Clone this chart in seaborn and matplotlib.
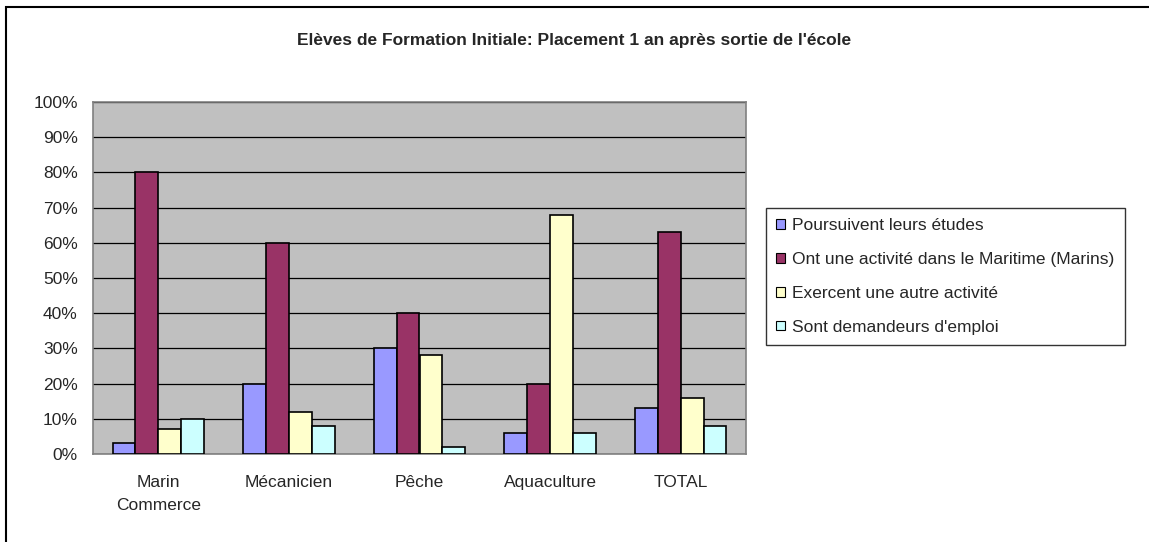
import pandas as pd
import numpy as np
import seaborn as sns
import matplotlib.pyplot as plt
from matplotlib.patches import Rectangle
from matplotlib.ticker import MultipleLocator, PercentFormatter, FixedLocator

categories = ['Marin\nCommerce', 'Mécanicien', 'Pêche', 'Aquaculture', 'TOTAL']
series = ['Poursuivent leurs études',
          'Ont une activité dans le Maritime (Marins)',
          'Exercent une autre activité',
          'Sont demandeurs d\'emploi']
etudes = [3, 20, 30, 6, 13]
maritime = [80, 60, 40, 20, 63]
autre = [7, 12, 28, 68, 16]
demandeurs = [10, 8, 2, 6, 8]
colors = ['#9999FF', '#993366', '#FFFFCC', '#CCFFFF']

df = pd.DataFrame({
    'cat': categories * 4,
    'serie': np.repeat(series, len(categories)),
    'val': etudes + maritime + autre + demandeurs,
})

sns.set_style('white')
plt.rcParams['font.family'] = ['Liberation Sans', 'DejaVu Sans']

fig = plt.figure(figsize=(11.49, 5.42), dpi=100)
ax = fig.add_axes([93 / 1149, 1 - 454 / 542, (746 - 93) / 1149, (454 - 102) / 542])
ax.set_facecolor('#C0C0C0')

sns.barplot(data=df, x='cat', y='val', hue='serie', palette=colors, width=0.7,
            edgecolor='black', linewidth=1.2, saturation=1, ax=ax, zorder=3)

ax.set_ylim(0, 100)
ax.set_xlim(-0.5, 4.5)
ax.yaxis.set_major_locator(MultipleLocator(10))
ax.yaxis.set_major_formatter(PercentFormatter(decimals=0))
ax.grid(axis='y', color='black', linewidth=0.9, zorder=1)
ax.set_axisbelow(True)
ax.set_xlabel('')
ax.set_ylabel('')
for s in ax.spines.values():
    s.set_color('#808080')
    s.set_linewidth(1.2)

ax.tick_params(axis='y', length=5, width=1, color='#808080', direction='out', labelsize=12.5, pad=6)
ax.tick_params(axis='x', which='major', length=0, labelsize=12.5, pad=15)
ax.xaxis.set_minor_locator(FixedLocator(np.arange(-0.5, 5, 1)))
ax.tick_params(axis='x', which='minor', length=5, width=1, color='#808080', direction='out')
for lbl in ax.get_xticklabels():
    lbl.set_va('top')
    lbl.set_ha('center')
    lbl.set_multialignment('center')
    lbl.set_linespacing(1.65)

leg = ax.legend(loc='upper left', bbox_to_anchor=(766 / 1149, 1 - 208 / 542),
                bbox_transform=fig.transFigure, frameon=True, fancybox=False,
                edgecolor='black', fontsize=12.5, handlelength=0.5, handleheight=0.5,
                handletextpad=0.4, labelspacing=1.08, borderpad=0.6, borderaxespad=0)
leg.get_frame().set_linewidth(1)
for h in leg.legend_handles:
    h.set_edgecolor('black')
    h.set_linewidth(0.8)

fig.text(0.5, 1 - 40 / 542, "Elèves de Formation Initiale: Placement 1 an après sortie de l'école",
         ha='center', va='center', fontsize=12.5, fontweight='bold')

fig.patches.append(Rectangle((6 / 1149, -0.1), 1.2, 1 - 7 / 542 + 0.1, transform=fig.transFigure,
                             fill=False, edgecolor='black', linewidth=1.5))

plt.savefig('out.png', dpi=100)
